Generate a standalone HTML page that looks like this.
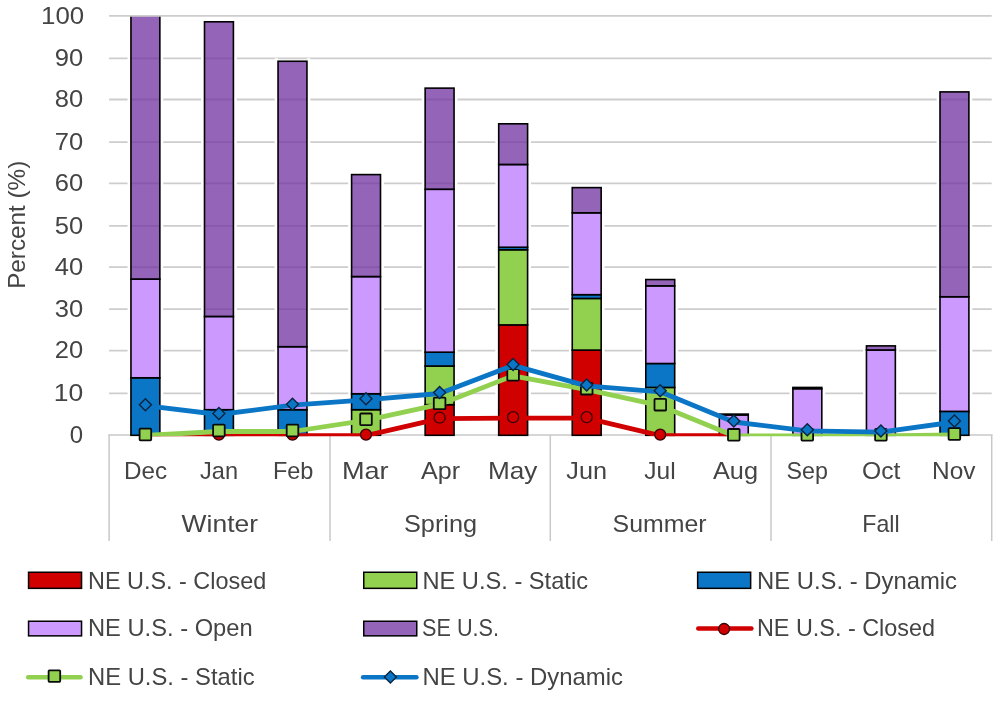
<!DOCTYPE html>
<html lang="en">
<head>
<meta charset="utf-8">
<title>Percent by month</title>
<style>
html,body{margin:0;padding:0;background:#fff;}
svg{display:block;}
text{font-family:"Liberation Sans",sans-serif;fill:#444444;}
</style>
</head>
<body>
<svg width="1000" height="702" viewBox="0 0 1000 702">
<rect width="1000" height="702" fill="#ffffff"/>
<defs><clipPath id="lineclip"><rect x="100" y="0" width="900" height="436.2"/></clipPath><clipPath id="plotclip"><rect x="100" y="15.90" width="900" height="440"/></clipPath></defs>
<g stroke="#cdcdcd" stroke-width="1.8">
<line x1="109.1" y1="393.30" x2="991.7" y2="393.30"/>
<line x1="109.1" y1="350.70" x2="991.7" y2="350.70"/>
<line x1="109.1" y1="309.20" x2="991.7" y2="309.20"/>
<line x1="109.1" y1="267.10" x2="991.7" y2="267.10"/>
<line x1="109.1" y1="225.85" x2="991.7" y2="225.85"/>
<line x1="109.1" y1="183.40" x2="991.7" y2="183.40"/>
<line x1="109.1" y1="142.15" x2="991.7" y2="142.15"/>
<line x1="109.1" y1="99.50" x2="991.7" y2="99.50"/>
<line x1="109.1" y1="58.45" x2="991.7" y2="58.45"/>
</g>
<g stroke="#c8c8c8" stroke-width="1.5" fill="none">
<line x1="108.3" y1="434.90" x2="992.5" y2="434.90"/>
<line x1="109.1" y1="434.90" x2="109.1" y2="541"/>
<line x1="330.0" y1="434.90" x2="330.0" y2="541"/>
<line x1="550.3" y1="434.90" x2="550.3" y2="541"/>
<line x1="771.0" y1="434.90" x2="771.0" y2="541"/>
<line x1="991.7" y1="434.90" x2="991.7" y2="541"/>
</g>
<text transform="translate(24.6,224.80) rotate(-90)" font-size="24" text-anchor="middle" textLength="128.00" lengthAdjust="spacingAndGlyphs">Percent (%)</text>
<g fill="#ffffff">
<rect x="127.55" y="17.00" width="3.4" height="416.80"/>
<rect x="159.85" y="17.00" width="3.4" height="416.80"/>
<rect x="201.10" y="18.80" width="3.4" height="415.00"/>
<rect x="233.40" y="18.80" width="3.4" height="415.00"/>
<rect x="274.65" y="58.26" width="3.4" height="375.54"/>
<rect x="306.95" y="58.26" width="3.4" height="375.54"/>
<rect x="348.20" y="171.60" width="3.4" height="262.20"/>
<rect x="380.50" y="171.60" width="3.4" height="262.20"/>
<rect x="421.75" y="85.13" width="3.4" height="348.67"/>
<rect x="454.05" y="85.13" width="3.4" height="348.67"/>
<rect x="495.30" y="120.81" width="3.4" height="312.99"/>
<rect x="527.60" y="120.81" width="3.4" height="312.99"/>
<rect x="568.85" y="184.62" width="3.4" height="249.18"/>
<rect x="601.15" y="184.62" width="3.4" height="249.18"/>
<rect x="642.40" y="276.55" width="3.4" height="157.25"/>
<rect x="674.70" y="276.55" width="3.4" height="157.25"/>
<rect x="715.95" y="411.10" width="3.4" height="22.70"/>
<rect x="748.25" y="411.10" width="3.4" height="22.70"/>
<rect x="789.50" y="384.44" width="3.4" height="49.36"/>
<rect x="821.80" y="384.44" width="3.4" height="49.36"/>
<rect x="863.05" y="342.88" width="3.4" height="90.92"/>
<rect x="895.35" y="342.88" width="3.4" height="90.92"/>
<rect x="936.60" y="88.90" width="3.4" height="344.90"/>
<rect x="968.90" y="88.90" width="3.4" height="344.90"/>
</g>
<g stroke="#000" stroke-width="1.6" stroke-linejoin="miter" clip-path="url(#plotclip)">
<rect x="130.95" y="377.79" width="28.90" height="57.51" fill="#0b76c6"/>
<rect x="130.95" y="279.13" width="28.90" height="98.65" fill="#cc99ff"/>
<rect x="130.95" y="10.00" width="28.90" height="269.13" fill="#7030a0" fill-opacity="0.75"/>
<rect x="204.50" y="409.69" width="28.90" height="25.61" fill="#0b76c6"/>
<rect x="204.50" y="316.50" width="28.90" height="93.20" fill="#cc99ff"/>
<rect x="204.50" y="21.80" width="28.90" height="294.70" fill="#7030a0" fill-opacity="0.75"/>
<rect x="278.05" y="409.69" width="28.90" height="25.61" fill="#0b76c6"/>
<rect x="278.05" y="346.72" width="28.90" height="62.97" fill="#cc99ff"/>
<rect x="278.05" y="61.26" width="28.90" height="285.46" fill="#7030a0" fill-opacity="0.75"/>
<rect x="351.60" y="409.69" width="28.90" height="25.61" fill="#92d050"/>
<rect x="351.60" y="393.74" width="28.90" height="15.95" fill="#0b76c6"/>
<rect x="351.60" y="276.62" width="28.90" height="117.12" fill="#cc99ff"/>
<rect x="351.60" y="174.60" width="28.90" height="102.01" fill="#7030a0" fill-opacity="0.75"/>
<rect x="425.15" y="404.65" width="28.90" height="30.65" fill="#d00000"/>
<rect x="425.15" y="366.03" width="28.90" height="38.62" fill="#92d050"/>
<rect x="425.15" y="352.18" width="28.90" height="13.85" fill="#0b76c6"/>
<rect x="425.15" y="189.30" width="28.90" height="162.88" fill="#cc99ff"/>
<rect x="425.15" y="88.13" width="28.90" height="101.17" fill="#7030a0" fill-opacity="0.75"/>
<rect x="498.70" y="324.89" width="28.90" height="110.41" fill="#d00000"/>
<rect x="498.70" y="249.75" width="28.90" height="75.14" fill="#92d050"/>
<rect x="498.70" y="247.23" width="28.90" height="2.52" fill="#0b76c6"/>
<rect x="498.70" y="164.53" width="28.90" height="82.70" fill="#cc99ff"/>
<rect x="498.70" y="123.81" width="28.90" height="40.72" fill="#7030a0" fill-opacity="0.75"/>
<rect x="572.25" y="350.08" width="28.90" height="85.22" fill="#d00000"/>
<rect x="572.25" y="298.45" width="28.90" height="51.64" fill="#92d050"/>
<rect x="572.25" y="294.67" width="28.90" height="3.78" fill="#0b76c6"/>
<rect x="572.25" y="212.81" width="28.90" height="81.86" fill="#cc99ff"/>
<rect x="572.25" y="187.62" width="28.90" height="25.19" fill="#7030a0" fill-opacity="0.75"/>
<rect x="645.80" y="387.44" width="28.90" height="47.86" fill="#92d050"/>
<rect x="645.80" y="363.51" width="28.90" height="23.93" fill="#0b76c6"/>
<rect x="645.80" y="285.85" width="28.90" height="77.66" fill="#cc99ff"/>
<rect x="645.80" y="279.55" width="28.90" height="6.30" fill="#7030a0" fill-opacity="0.75"/>
<rect x="719.35" y="414.94" width="28.90" height="20.36" fill="#cc99ff"/>
<rect x="719.35" y="414.10" width="28.90" height="0.84" fill="#7030a0" fill-opacity="0.75"/>
<rect x="792.90" y="388.70" width="28.90" height="46.60" fill="#cc99ff"/>
<rect x="792.90" y="387.44" width="28.90" height="1.26" fill="#7030a0" fill-opacity="0.75"/>
<rect x="866.45" y="350.08" width="28.90" height="85.22" fill="#cc99ff"/>
<rect x="866.45" y="345.88" width="28.90" height="4.20" fill="#7030a0" fill-opacity="0.75"/>
<rect x="940.00" y="411.37" width="28.90" height="23.93" fill="#0b76c6"/>
<rect x="940.00" y="296.77" width="28.90" height="114.61" fill="#cc99ff"/>
<rect x="940.00" y="91.90" width="28.90" height="204.86" fill="#7030a0" fill-opacity="0.75"/>
</g>
<line x1="109.1" y1="15.90" x2="991.7" y2="15.90" stroke="#cdcdcd" stroke-width="1.8"/>
<polyline points="145.4,435.6 218.9,435.6 292.5,435.6 366.0,435.6 439.6,418.7 513.1,418.2 586.7,418.2 660.2,435.6 733.8,435.6" fill="none" stroke="#d00000" stroke-width="4.8" stroke-linejoin="round" stroke-linecap="round" clip-path="url(#lineclip)"/>
<circle cx="145.4" cy="434.6" r="5.5" fill="#d00000" stroke="#3a0000" stroke-width="1.3"/>
<circle cx="218.9" cy="434.6" r="5.5" fill="#d00000" stroke="#3a0000" stroke-width="1.3"/>
<circle cx="292.5" cy="434.6" r="5.5" fill="#d00000" stroke="#3a0000" stroke-width="1.3"/>
<circle cx="366.0" cy="434.6" r="5.5" fill="#d00000" stroke="#3a0000" stroke-width="1.3"/>
<circle cx="439.6" cy="417.7" r="5.5" fill="#d00000" stroke="#3a0000" stroke-width="1.3"/>
<circle cx="513.1" cy="417.2" r="5.5" fill="#d00000" stroke="#3a0000" stroke-width="1.3"/>
<circle cx="586.7" cy="417.2" r="5.5" fill="#d00000" stroke="#3a0000" stroke-width="1.3"/>
<circle cx="660.2" cy="434.6" r="5.5" fill="#d00000" stroke="#3a0000" stroke-width="1.3"/>
<circle cx="733.8" cy="434.6" r="5.5" fill="#d00000" stroke="#3a0000" stroke-width="1.3"/>
<polyline points="145.4,435.5 218.9,431.5 292.5,431.5 366.0,420.3 439.6,404.4 513.1,375.8 586.7,389.7 660.2,405.7 733.8,435.8 807.3,435.8 880.9,435.8 954.4,435.0" fill="none" stroke="#92d050" stroke-width="4.8" stroke-linejoin="round" stroke-linecap="round" clip-path="url(#lineclip)"/>
<rect x="139.6" y="428.7" width="11.6" height="11.6" rx="0.8" fill="#92d050" stroke="#0a0a0a" stroke-width="1.8"/>
<rect x="213.1" y="424.7" width="11.6" height="11.6" rx="0.8" fill="#92d050" stroke="#0a0a0a" stroke-width="1.8"/>
<rect x="286.7" y="424.7" width="11.6" height="11.6" rx="0.8" fill="#92d050" stroke="#0a0a0a" stroke-width="1.8"/>
<rect x="360.2" y="413.5" width="11.6" height="11.6" rx="0.8" fill="#92d050" stroke="#0a0a0a" stroke-width="1.8"/>
<rect x="433.8" y="397.6" width="11.6" height="11.6" rx="0.8" fill="#92d050" stroke="#0a0a0a" stroke-width="1.8"/>
<rect x="507.3" y="369.0" width="11.6" height="11.6" rx="0.8" fill="#92d050" stroke="#0a0a0a" stroke-width="1.8"/>
<rect x="580.9" y="382.9" width="11.6" height="11.6" rx="0.8" fill="#92d050" stroke="#0a0a0a" stroke-width="1.8"/>
<rect x="654.5" y="398.9" width="11.6" height="11.6" rx="0.8" fill="#92d050" stroke="#0a0a0a" stroke-width="1.8"/>
<rect x="728.0" y="429.0" width="11.6" height="11.6" rx="0.8" fill="#92d050" stroke="#0a0a0a" stroke-width="1.8"/>
<rect x="801.5" y="429.0" width="11.6" height="11.6" rx="0.8" fill="#92d050" stroke="#0a0a0a" stroke-width="1.8"/>
<rect x="875.1" y="429.0" width="11.6" height="11.6" rx="0.8" fill="#92d050" stroke="#0a0a0a" stroke-width="1.8"/>
<rect x="948.6" y="428.2" width="11.6" height="11.6" rx="0.8" fill="#92d050" stroke="#0a0a0a" stroke-width="1.8"/>
<polyline points="145.4,405.7 218.9,414.5 292.5,405.2 366.0,399.8 439.6,393.5 513.1,365.4 586.7,385.9 660.2,391.8 733.8,422.0 807.3,430.8 880.9,432.1 954.4,422.0" fill="none" stroke="#0b76c6" stroke-width="4.8" stroke-linejoin="round" stroke-linecap="round" clip-path="url(#lineclip)"/>
<polygon points="145.4,398.7 151.4,404.7 145.4,410.7 139.4,404.7" fill="#0b76c6" stroke="#0a2540" stroke-width="1.4" stroke-linejoin="miter"/>
<polygon points="218.9,407.5 224.9,413.5 218.9,419.5 212.9,413.5" fill="#0b76c6" stroke="#0a2540" stroke-width="1.4" stroke-linejoin="miter"/>
<polygon points="292.5,398.2 298.5,404.2 292.5,410.2 286.5,404.2" fill="#0b76c6" stroke="#0a2540" stroke-width="1.4" stroke-linejoin="miter"/>
<polygon points="366.0,392.8 372.0,398.8 366.0,404.8 360.0,398.8" fill="#0b76c6" stroke="#0a2540" stroke-width="1.4" stroke-linejoin="miter"/>
<polygon points="439.6,386.5 445.6,392.5 439.6,398.5 433.6,392.5" fill="#0b76c6" stroke="#0a2540" stroke-width="1.4" stroke-linejoin="miter"/>
<polygon points="513.1,358.4 519.1,364.4 513.1,370.4 507.1,364.4" fill="#0b76c6" stroke="#0a2540" stroke-width="1.4" stroke-linejoin="miter"/>
<polygon points="586.7,378.9 592.7,384.9 586.7,390.9 580.7,384.9" fill="#0b76c6" stroke="#0a2540" stroke-width="1.4" stroke-linejoin="miter"/>
<polygon points="660.2,384.8 666.2,390.8 660.2,396.8 654.2,390.8" fill="#0b76c6" stroke="#0a2540" stroke-width="1.4" stroke-linejoin="miter"/>
<polygon points="733.8,415.0 739.8,421.0 733.8,427.0 727.8,421.0" fill="#0b76c6" stroke="#0a2540" stroke-width="1.4" stroke-linejoin="miter"/>
<polygon points="807.3,423.8 813.3,429.8 807.3,435.8 801.3,429.8" fill="#0b76c6" stroke="#0a2540" stroke-width="1.4" stroke-linejoin="miter"/>
<polygon points="880.9,425.1 886.9,431.1 880.9,437.1 874.9,431.1" fill="#0b76c6" stroke="#0a2540" stroke-width="1.4" stroke-linejoin="miter"/>
<polygon points="954.4,415.0 960.4,421.0 954.4,427.0 948.4,421.0" fill="#0b76c6" stroke="#0a2540" stroke-width="1.4" stroke-linejoin="miter"/>
<rect x="28.55" y="572.25" width="53.0" height="16.10" fill="#d00000" stroke="#000" stroke-width="1.5"/>
<rect x="363.75" y="572.25" width="53.0" height="16.10" fill="#92d050" stroke="#000" stroke-width="1.5"/>
<rect x="697.65" y="572.25" width="53.0" height="16.10" fill="#0b76c6" stroke="#000" stroke-width="1.5"/>
<rect x="28.55" y="621.25" width="53.0" height="14.60" fill="#cc99ff" stroke="#000" stroke-width="1.5"/>
<rect x="363.75" y="621.25" width="53.0" height="14.60" fill="#7030a0" fill-opacity="0.75" stroke="#000" stroke-width="1.5"/>
<line x1="698.3" y1="628.6" x2="751.4" y2="628.6" stroke="#d00000" stroke-width="4.5" stroke-linecap="round"/>
<circle cx="724.1" cy="629.0" r="5.5" fill="#d00000" stroke="#3a0000" stroke-width="1.3"/>
<line x1="28.2" y1="677.2" x2="80.5" y2="677.2" stroke="#92d050" stroke-width="4.5" stroke-linecap="round"/>
<rect x="48.6" y="670.3" width="11.6" height="11.6" rx="0.8" fill="#92d050" stroke="#0a0a0a" stroke-width="1.8"/>
<line x1="363.1" y1="677.2" x2="416.4" y2="677.2" stroke="#0b76c6" stroke-width="4.5" stroke-linecap="round"/>
<polygon points="390.4,670.9 396.4,676.9 390.4,682.9 384.4,676.9" fill="#0b76c6" stroke="#0a2540" stroke-width="1.4" stroke-linejoin="miter"/>
<text x="69.84" y="443.00" font-size="24" textLength="13.34" lengthAdjust="spacingAndGlyphs">0</text>
<text x="53.76" y="401.00" font-size="24" textLength="29.46" lengthAdjust="spacingAndGlyphs">10</text>
<text x="54.81" y="358.40" font-size="24" textLength="28.41" lengthAdjust="spacingAndGlyphs">20</text>
<text x="54.81" y="316.90" font-size="24" textLength="28.41" lengthAdjust="spacingAndGlyphs">30</text>
<text x="54.80" y="274.80" font-size="24" textLength="28.39" lengthAdjust="spacingAndGlyphs">40</text>
<text x="54.78" y="233.55" font-size="24" textLength="28.40" lengthAdjust="spacingAndGlyphs">50</text>
<text x="54.81" y="191.10" font-size="24" textLength="28.41" lengthAdjust="spacingAndGlyphs">60</text>
<text x="54.81" y="149.85" font-size="24" textLength="28.41" lengthAdjust="spacingAndGlyphs">70</text>
<text x="54.78" y="107.20" font-size="24" textLength="28.40" lengthAdjust="spacingAndGlyphs">80</text>
<text x="54.78" y="66.15" font-size="24" textLength="28.40" lengthAdjust="spacingAndGlyphs">90</text>
<text x="41.12" y="23.60" font-size="24" textLength="43.12" lengthAdjust="spacingAndGlyphs">100</text>
<text x="123.96" y="479.20" font-size="24" textLength="43.05" lengthAdjust="spacingAndGlyphs">Dec</text>
<text x="200.00" y="479.20" font-size="24" textLength="38.00" lengthAdjust="spacingAndGlyphs">Jan</text>
<text x="272.95" y="479.20" font-size="24" textLength="40.49" lengthAdjust="spacingAndGlyphs">Feb</text>
<text x="341.95" y="479.20" font-size="24" textLength="46.68" lengthAdjust="spacingAndGlyphs">Mar</text>
<text x="421.00" y="479.20" font-size="24" textLength="39.00" lengthAdjust="spacingAndGlyphs">Apr</text>
<text x="488.00" y="479.20" font-size="24" textLength="49.40" lengthAdjust="spacingAndGlyphs">May</text>
<text x="566.38" y="479.20" font-size="24" textLength="40.67" lengthAdjust="spacingAndGlyphs">Jun</text>
<text x="644.33" y="479.20" font-size="24" textLength="31.38" lengthAdjust="spacingAndGlyphs">Jul</text>
<text x="712.97" y="479.20" font-size="24" textLength="45.05" lengthAdjust="spacingAndGlyphs">Aug</text>
<text x="786.58" y="479.20" font-size="24" textLength="41.43" lengthAdjust="spacingAndGlyphs">Sep</text>
<text x="862.04" y="479.20" font-size="24" textLength="38.38" lengthAdjust="spacingAndGlyphs">Oct</text>
<text x="932.00" y="479.20" font-size="24" textLength="43.41" lengthAdjust="spacingAndGlyphs">Nov</text>
<text x="181.61" y="532.20" font-size="24" textLength="76.40" lengthAdjust="spacingAndGlyphs">Winter</text>
<text x="403.99" y="532.20" font-size="24" textLength="73.02" lengthAdjust="spacingAndGlyphs">Spring</text>
<text x="612.60" y="532.20" font-size="24" textLength="94.00" lengthAdjust="spacingAndGlyphs">Summer</text>
<text x="862.34" y="532.20" font-size="24" textLength="37.31" lengthAdjust="spacingAndGlyphs">Fall</text>
<text x="87.97" y="588.70" font-size="24" textLength="178.23" lengthAdjust="spacingAndGlyphs">NE U.S. - Closed</text>
<text x="422.40" y="588.70" font-size="24" textLength="165.61" lengthAdjust="spacingAndGlyphs">NE U.S. - Static</text>
<text x="756.99" y="588.70" font-size="24" textLength="200.02" lengthAdjust="spacingAndGlyphs">NE U.S. - Dynamic</text>
<text x="87.99" y="636.40" font-size="24" textLength="164.62" lengthAdjust="spacingAndGlyphs">NE U.S. - Open</text>
<text x="421.99" y="636.40" font-size="24" textLength="77.02" lengthAdjust="spacingAndGlyphs">SE U.S.</text>
<text x="756.98" y="636.40" font-size="24" textLength="178.03" lengthAdjust="spacingAndGlyphs">NE U.S. - Closed</text>
<text x="87.97" y="685.00" font-size="24" textLength="166.61" lengthAdjust="spacingAndGlyphs">NE U.S. - Static</text>
<text x="422.38" y="685.00" font-size="24" textLength="200.62" lengthAdjust="spacingAndGlyphs">NE U.S. - Dynamic</text>
</svg>
</body>
</html>
